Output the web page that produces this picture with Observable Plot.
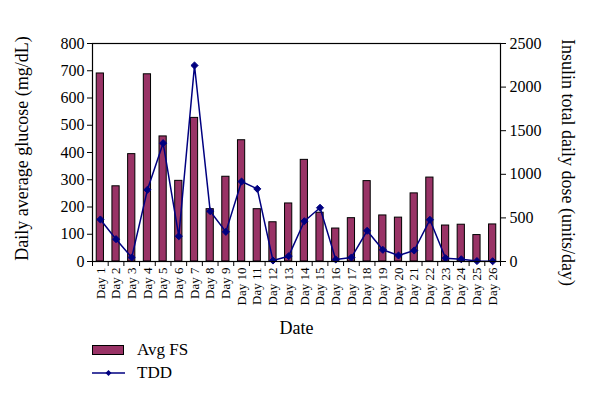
<!DOCTYPE html>
<html>
<head>
<meta charset="utf-8">
<script src="https://cdn.jsdelivr.net/npm/d3@7"></script>
<script src="https://cdn.jsdelivr.net/npm/@observablehq/plot@0.6"></script>
<style>
  body { margin: 0; background: #fff; font-family: "Liberation Serif", "DejaVu Serif", serif; }
  #chart svg { display: block; }
  .legend { position: relative; height: 67px; font-size: 17px; color: #000; }
  .legend .item { position: absolute; left: 92px; display: flex; align-items: center; }
  .legend .item span { margin-left: 12px; }
</style>
</head>
<body>
<div id="chart"></div>
<div class="legend">
  <div class="item" style="top:0px;"><svg width="33" height="14"><rect x="0.5" y="2.5" width="31" height="9" fill="#993366" stroke="#000"/></svg><span>Avg FS</span></div>
  <div class="item" style="top:23px;"><svg width="33" height="14"><line x1="0" x2="33" y1="7" y2="7" stroke="#000080" stroke-width="1.5"/><path d="M16.5 4 L19.5 7 L16.5 10 L13.5 7 Z" fill="#000080"/></svg><span>TDD</span></div>
</div>
<script>
const days = Array.from({length: 26}, (_, i) => `Day ${i + 1}`);
const avgFS = [690, 276, 394, 687, 459, 296, 527, 192, 311, 445, 192, 144, 213, 373, 179, 121, 159, 295, 169, 161, 250, 308, 132, 135, 97, 136];
const tdd = [482, 256, 46, 822, 1357, 290, 2248, 577, 340, 917, 833, 11, 61, 462, 616, 23, 46, 352, 134, 69, 126, 478, 38, 26, 5, 3];
const leftTicks = [0, 100, 200, 300, 400, 500, 600, 700, 800];
const rightTicks = [0, 500, 1000, 1500, 2000, 2500];

const LEFT_MAX = 800, RIGHT_MAX = 2500;
const toLeft = v => v * LEFT_MAX / RIGHT_MAX;
const data = days.map((d, i) => ({day: d, idx: i, fs: avgFS[i], tdd: tdd[i]}));
const halfBar = 0.23;

const chart = Plot.plot({
  width: 600,
  height: 340,
  marginLeft: 92,
  marginRight: 100,
  marginTop: 43,
  marginBottom: 79,
  style: {fontFamily: "Liberation Serif, DejaVu Serif, serif", fontSize: "16px", color: "#000", background: "#fff"},
  x: {type: "linear", domain: [0, days.length]},
  y: {domain: [0, LEFT_MAX]},
  marks: [
    Plot.rect(data, {x1: d => d.idx + 0.5 - halfBar, x2: d => d.idx + 0.5 + halfBar, y1: 0, y2: "fs", fill: "#993366", stroke: "#000", strokeWidth: 1}),
    Plot.line(data, {x: d => d.idx + 0.5, y: d => toLeft(d.tdd), stroke: "#000080", strokeWidth: 1.5}),
    Plot.dot(data, {x: d => d.idx + 0.5, y: d => toLeft(d.tdd), symbol: "diamond2", r: 3.2, fill: "#000080", stroke: "#000080", strokeWidth: 1}),
    Plot.frame({stroke: "#000", strokeWidth: 1.2}),
    Plot.axisX({ticks: d3.range(0, days.length + 1), tickSize: 5, tickFormat: () => "", label: null}),
    Plot.axisX({ticks: d3.range(0.5, days.length), tickSize: 0, tickPadding: 6, tickRotate: -90, fontSize: 13,
      tickFormat: d => days[Math.round(d - 0.5)], label: null}),
    Plot.text(["Date"], {frameAnchor: "bottom", dy: 72, fontSize: 18, textAnchor: "middle"}),
    Plot.axisY({ticks: leftTicks, tickSize: 5, tickPadding: 3, fontSize: 16, label: null}),
    Plot.axisY({anchor: "right", ticks: rightTicks.map(toLeft), tickSize: 5, tickPadding: 4, fontSize: 16,
      tickFormat: d => String(Math.round(d * RIGHT_MAX / LEFT_MAX)), label: null}),
    Plot.text(["Daily average glucose (mg/dL)"], {frameAnchor: "left", dx: -70, dy: -4, rotate: -90, fontSize: 18, textAnchor: "middle"}),
    Plot.text(["Insulin total daily dose (units/day)"], {frameAnchor: "right", dx: 67, dy: 10, rotate: 90, fontSize: 18, textAnchor: "middle"})
  ]
});
document.getElementById("chart").appendChild(chart);
</script>
</body>
</html>
